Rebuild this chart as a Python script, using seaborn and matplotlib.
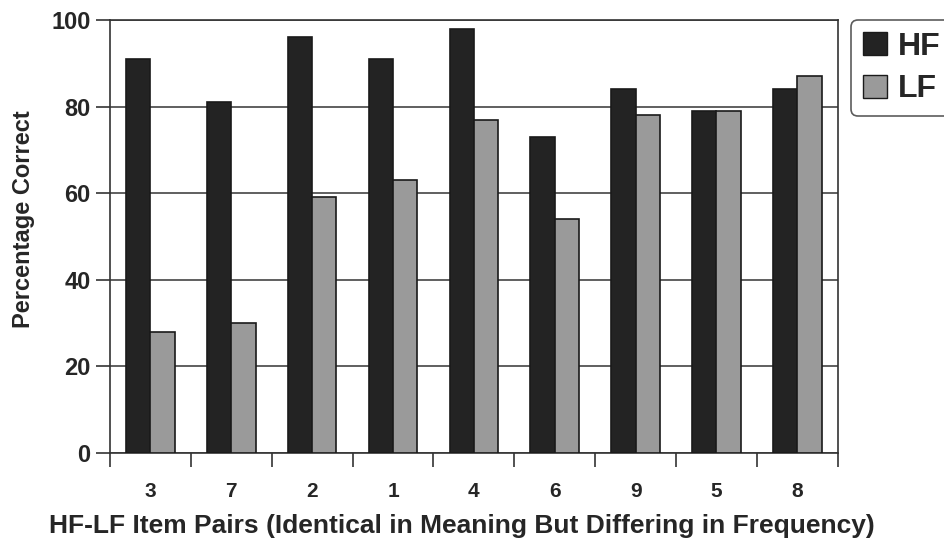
import pandas as pd
import matplotlib
matplotlib.use("Agg")
import matplotlib.pyplot as plt
import seaborn as sns

sns.set_theme(style="white")
plt.rcParams['font.family'] = ['Liberation Sans', 'DejaVu Sans']
plt.rcParams['font.weight'] = 'bold'

pairs = ['3', '7', '2', '1', '4', '6', '9', '5', '8']
hf_values = [91, 81, 96, 91, 98, 73, 84, 79, 84]
lf_values = [28, 30, 59, 63, 77, 54, 78, 79, 87]
y_ticks = [0, 20, 40, 60, 80, 100]

df = pd.DataFrame({
    'Pair': pairs * 2,
    'Percent': hf_values + lf_values,
    'Type': ['HF'] * len(pairs) + ['LF'] * len(pairs),
})

fig = plt.figure(figsize=(9.44, 5.38), dpi=100)
ax = fig.add_axes([0.1165, 0.158, 0.771, 0.805])

sns.barplot(data=df, x='Pair', y='Percent', hue='Type', order=pairs,
            hue_order=['HF', 'LF'], palette={'HF': '#232323', 'LF': '#9a9a9a'},
            width=0.6, gap=0, edgecolor='#1a1a1a', linewidth=1.2,
            saturation=1, ax=ax, legend=False, zorder=3)

ax.set_ylim(0, 100)
ax.set_xlim(-0.5, len(pairs) - 0.5)
ax.set_yticks(y_ticks)
ax.yaxis.grid(True, color='#444444', linewidth=1.2, zorder=0)
ax.set_axisbelow(True)

# category boundaries get the tick marks, labels sit at the centres
ax.set_xticks([i - 0.5 for i in range(len(pairs) + 1)])
ax.set_xticklabels([])
ax.set_xticks(range(len(pairs)), minor=True)
ax.set_xticklabels(pairs, minor=True, fontsize=15, fontweight='bold')
ax.tick_params(axis='x', which='major', direction='out', length=10, width=1.2,
               color='#333333', bottom=True)
ax.tick_params(axis='x', which='minor', length=0, pad=21)
ax.tick_params(axis='y', direction='out', length=10, width=1.2,
               color='#333333', left=True, labelsize=17, pad=4)
for lbl in ax.get_yticklabels():
    lbl.set_fontweight('bold')

for side in ['left', 'bottom', 'top', 'right']:
    ax.spines[side].set_visible(True)
    ax.spines[side].set_color('#333333')
    ax.spines[side].set_linewidth(1.2)

ax.set_xlabel('HF-LF Item Pairs (Identical in Meaning But Differing in Frequency)',
              fontsize=19, fontweight='bold')
ax.xaxis.set_label_coords(0.484, -0.142)
ax.set_ylabel('Percentage Correct', fontsize=17, fontweight='bold')
ax.yaxis.set_label_coords(-0.103, 0.54)

handles = [plt.Rectangle((0, 0), 1, 1, facecolor='#232323', edgecolor='#1a1a1a'),
           plt.Rectangle((0, 0), 1, 1, facecolor='#9a9a9a', edgecolor='#1a1a1a')]
leg = fig.legend(handles, ['HF', 'LF'], loc='upper left',
                 bbox_to_anchor=(0.902, 0.962), frameon=True,
                 prop={'size': 23, 'weight': 'bold'}, handlelength=0.75,
                 handleheight=0.75, handletextpad=0.35, borderpad=0.35,
                 labelspacing=0.4, borderaxespad=0, fancybox=True)
leg.get_frame().set_edgecolor('#333333')
leg.get_frame().set_linewidth(1.2)

fig.savefig('out.png', dpi=100)
